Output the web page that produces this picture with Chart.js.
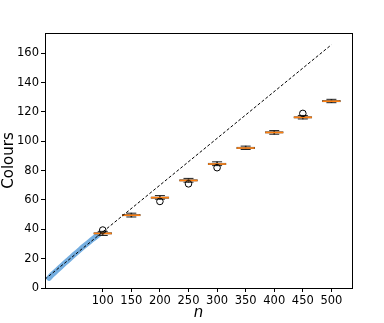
<!DOCTYPE html>
<html>
<head>
<meta charset="utf-8">
<script src="https://cdn.jsdelivr.net/npm/chart.js@4.4.1/dist/chart.umd.min.js"></script>
<style>
  html, body { margin: 0; padding: 0; background: #fff; }
  #wrap { width: 384px; height: 323px; }
</style>
</head>
<body>
<div id="wrap"><canvas id="chart" width="384" height="323"></canvas></div>
<script>
// large-n box plots
const positions = [100, 150, 200, 250, 300, 350, 400, 450, 500];
const medians   = [37.2, 49.6, 61.6, 73.3, 84.5, 95.4, 106.0, 116.3, 127.3];
const q1s       = [36.7, 49.1, 61.1, 72.8, 84.0, 95.0, 105.5, 115.8, 126.9];
const q3s       = [37.8, 50.2, 62.2, 73.9, 85.1, 96.0, 106.6, 116.9, 127.9];
const whiskLo   = [35.8, 48.4, 60.5, 72.1, 83.4, 94.4, 104.8, 115.2, 126.3];
const whiskHi   = [38.6, 51.0, 63.0, 74.7, 86.0, 96.7, 107.3, 117.6, 128.6];
const outlierX  = [100, 200, 250, 300, 450];
const outlierY  = [39.5, 59.0, 71.0, 82.0, 119.0];

// small-n cluster (dense blue boxes)
const smallN    = [6, 10, 15, 20, 25, 30, 35, 40, 45, 50, 55, 60, 65, 70, 75, 80, 85, 90, 93];
const smallVals = [6.8, 8.5, 10.3, 12.1, 13.9, 15.7, 17.5, 19.2, 21.0, 22.7, 24.4, 26.1, 27.8, 29.4, 31.0, 32.6, 34.1, 35.6, 36.4];

// reference dashed line
const refX = [-1, 500];
const refY = [6.0, 165.8];

const xTicks = [100, 150, 200, 250, 300, 350, 400, 450, 500];
const yTicks = [0, 20, 40, 60, 80, 100, 120, 140, 160];

const frame = {
  id: 'frame',
  afterDatasetsDraw(chart) {
    const a = chart.chartArea, ctx = chart.ctx;
    ctx.save();
    ctx.strokeStyle = '#000';
    ctx.lineWidth = 1;
    ctx.strokeRect(a.left + 0.5, a.top + 0.5, a.right - a.left, a.bottom - a.top);
    ctx.restore();
  }
};

const font = { family: 'DejaVu Sans', size: 11.5 };

new Chart(document.getElementById('chart'), {
  type: 'bar',
  data: {
    datasets: [
      {
        type: 'line',
        label: 'small',
        data: smallN.map((n, i) => ({ x: n, y: smallVals[i] })),
        borderColor: 'rgba(110,170,222,0.95)',
        borderWidth: 5.5,
        borderCapStyle: 'round',
        pointRadius: 0,
        tension: 0,
        order: 6
      },
      {
        type: 'line',
        label: 'ref',
        data: refX.map((x, i) => ({ x: x, y: refY[i] })),
        borderColor: '#000',
        borderWidth: 1,
        borderDash: [3, 2],
        pointRadius: 0,
        order: 0
      },
      {
        label: 'whisker',
        data: positions.map((p, i) => ({ x: p, y: [whiskLo[i], whiskHi[i]] })),
        backgroundColor: '#222',
        barThickness: 1,
        grouped: false,
        order: 5
      },
      {
        label: 'box',
        data: positions.map((p, i) => ({ x: p, y: [q1s[i], q3s[i]] })),
        backgroundColor: '#3a72a8',
        borderColor: '#333',
        borderWidth: 1,
        borderSkipped: false,
        barThickness: 18,
        grouped: false,
        order: 4
      },
      {
        type: 'scatter',
        label: 'caps',
        data: positions.flatMap((p, i) => [{ x: p, y: whiskLo[i] }, { x: p, y: whiskHi[i] }]),
        pointStyle: 'line',
        pointRadius: 5,
        borderColor: '#222',
        borderWidth: 1,
        order: 3
      },
      {
        type: 'scatter',
        label: 'median',
        data: positions.map((p, i) => ({ x: p, y: medians[i] })),
        pointStyle: 'line',
        pointRadius: 9,
        borderColor: '#ff7f0e',
        borderWidth: 1.6,
        order: 2
      },
      {
        type: 'scatter',
        label: 'outliers',
        data: outlierX.map((x, i) => ({ x: x, y: outlierY[i] })),
        pointStyle: 'circle',
        pointRadius: 3.3,
        backgroundColor: 'rgba(0,0,0,0)',
        borderColor: '#000',
        borderWidth: 1,
        order: 1
      }
    ]
  },
  options: {
    responsive: false,
    animation: false,
    layout: { padding: { top: 33, right: 32, left: 0, bottom: 0 } },
    plugins: { legend: { display: false }, tooltip: { enabled: false } },
    scales: {
      x: {
        type: 'linear',
        offset: false,
        min: -1,
        max: 536,
        afterBuildTicks: s => { s.ticks = xTicks.map(v => ({ value: v })); },
        afterFit: s => { s.height = 35; },
        grid: { drawOnChartArea: false, drawTicks: true, tickLength: 4, color: '#000', offset: false },
        border: { display: false },
        ticks: { color: '#000', font: font, padding: 2, maxRotation: 0, autoSkip: false },
        title: { display: true, text: 'n', color: '#000', padding: { top: 0, bottom: 1 },
                 font: { family: 'DejaVu Sans', size: 15, style: 'italic' } }
      },
      y: {
        min: 0,
        max: 173.8,
        afterBuildTicks: s => { s.ticks = yTicks.map(v => ({ value: v })); },
        afterFit: s => { s.width = 45; },
        grid: { drawOnChartArea: false, drawTicks: true, tickLength: 4, color: '#000' },
        border: { display: false },
        ticks: { color: '#000', font: font, padding: 2 },
        title: { display: true, text: 'Colours', color: '#000', padding: { top: 0, bottom: 0 },
                 font: { family: 'DejaVu Sans', size: 15 } }
      }
    }
  },
  plugins: [frame]
});
</script>
</body>
</html>
